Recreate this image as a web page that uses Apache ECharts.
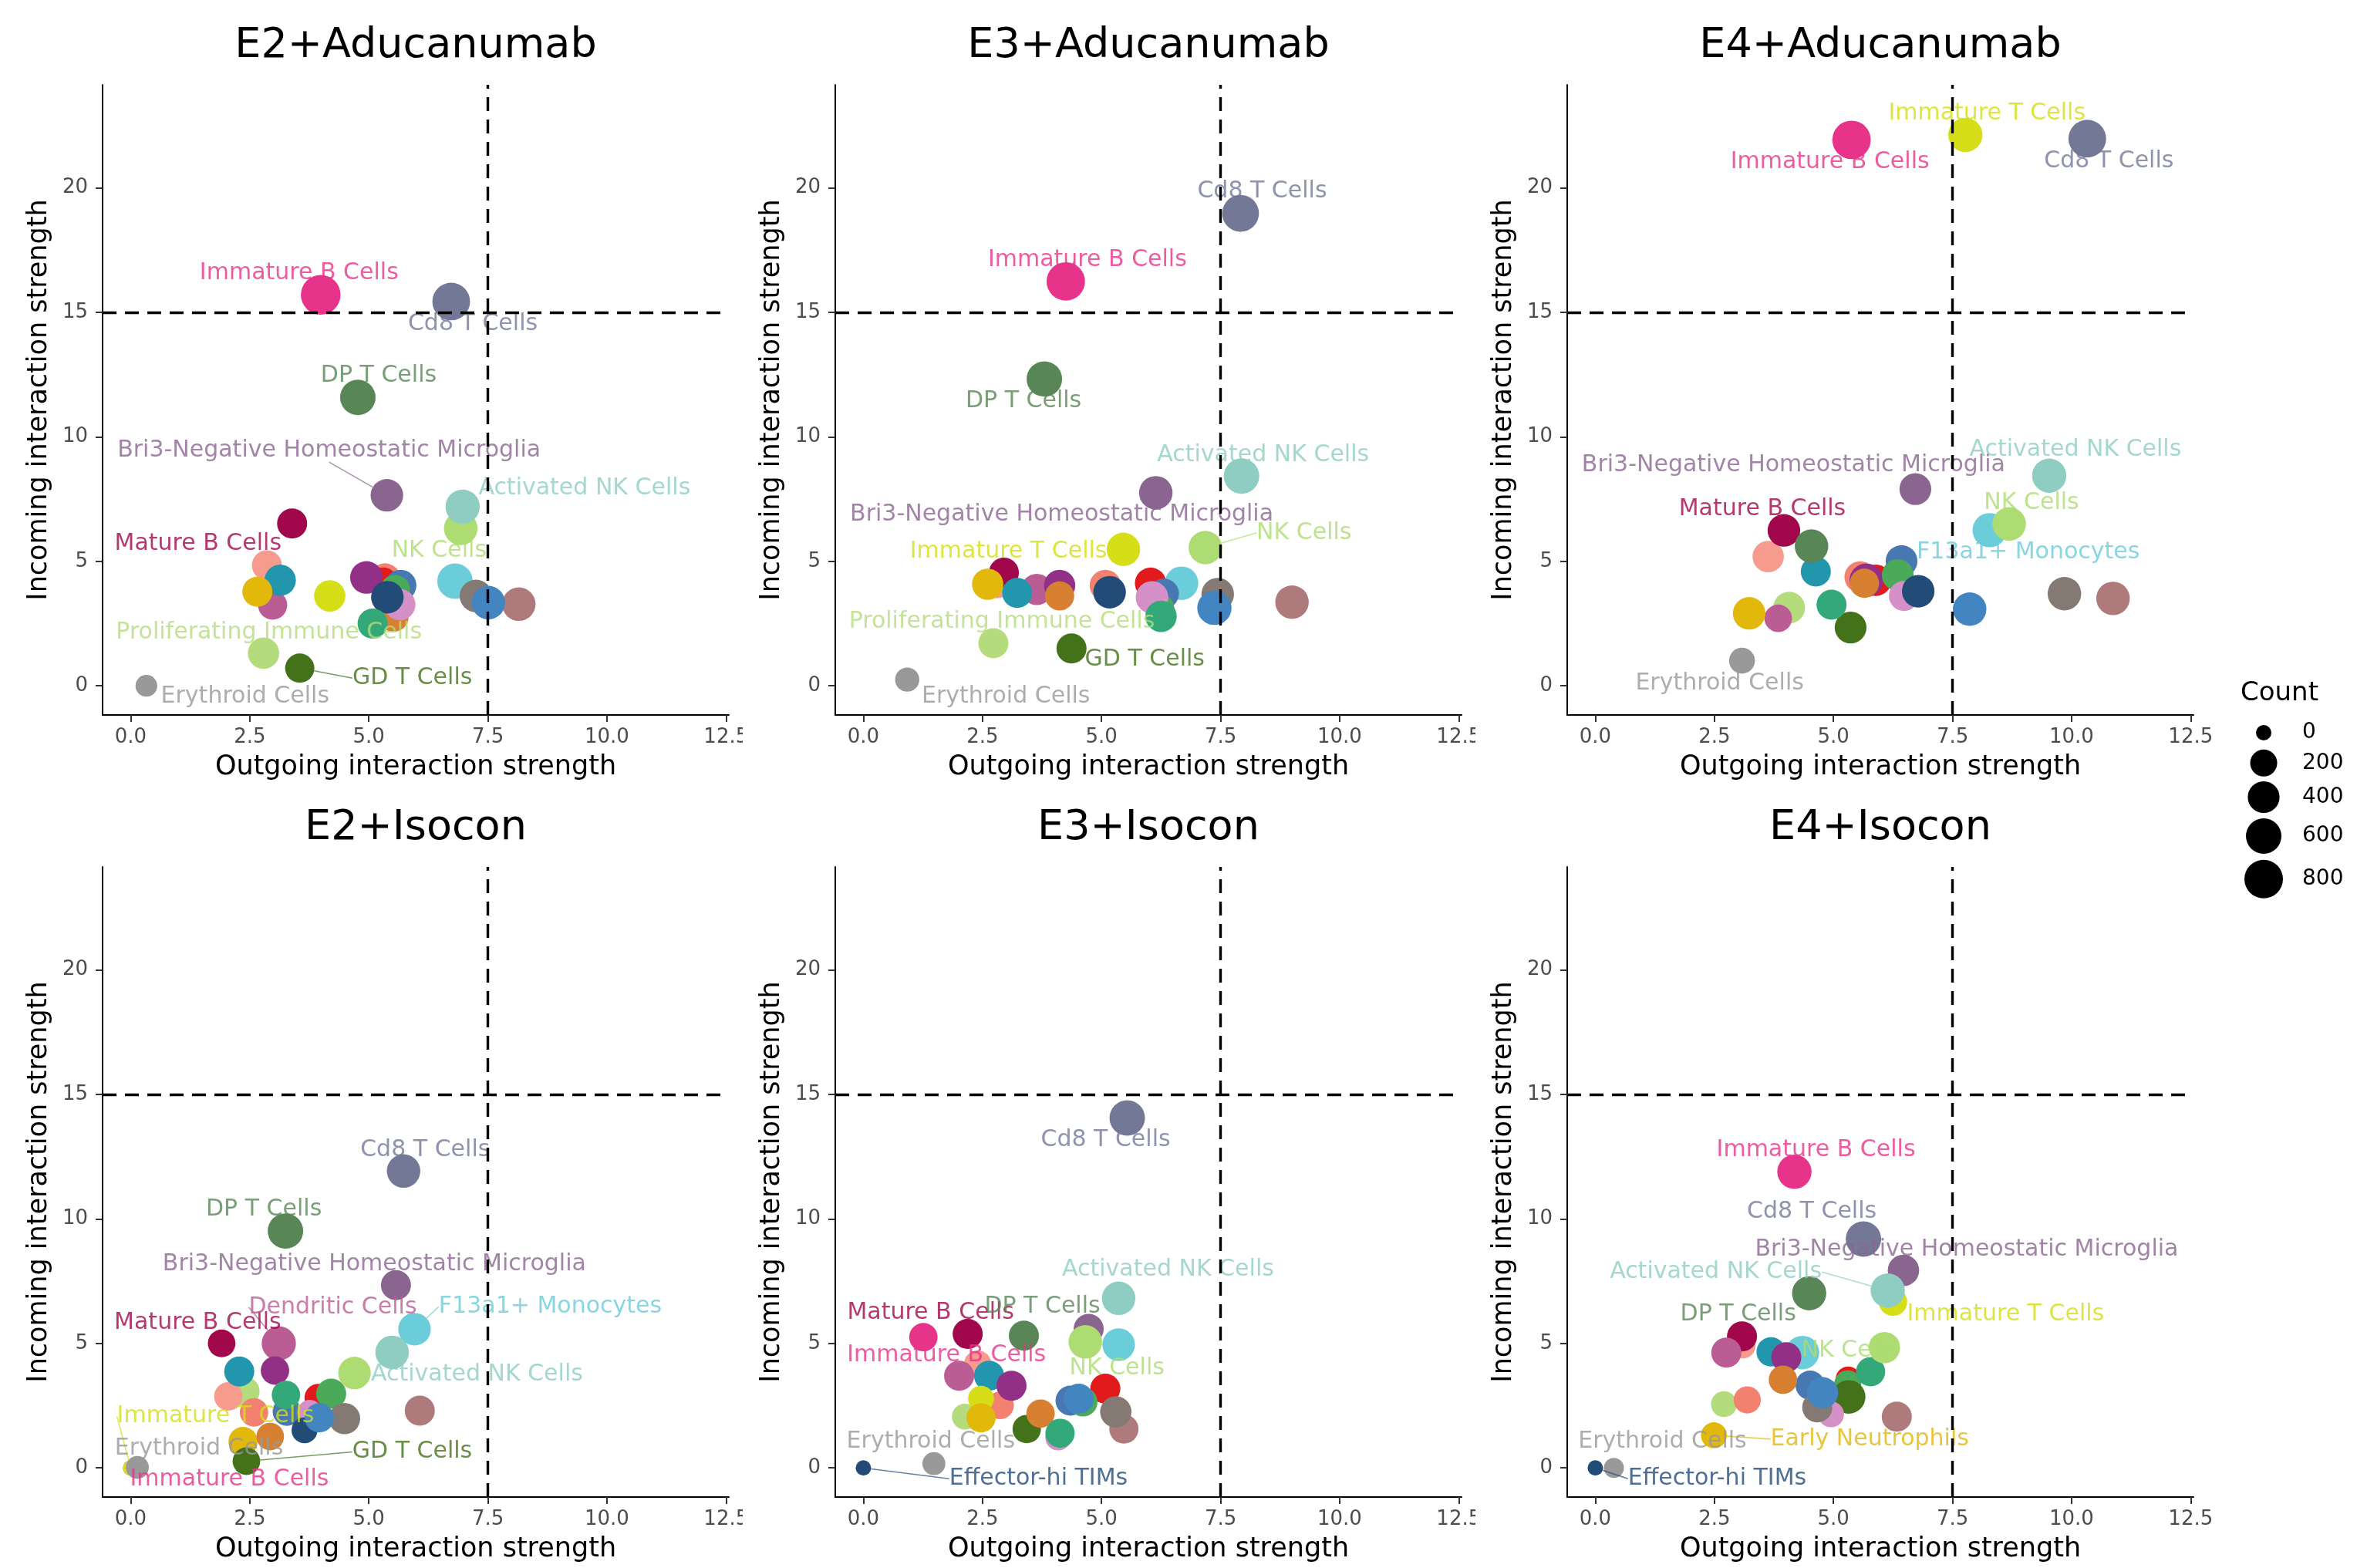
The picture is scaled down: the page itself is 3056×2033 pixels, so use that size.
<!DOCTYPE html>
<html>
<head>
<meta charset="utf-8">
<script src="https://cdn.jsdelivr.net/npm/echarts@6/dist/echarts.min.js"></script>
<style>
  html, body { margin: 0; padding: 0; background: #ffffff; }
  #chart { width: 3056px; height: 2033px; }
</style>
</head>
<body>
<div id="chart"></div>
<script>
// Cell populations, in drawing order (later ones are painted on top).
const cellTypes = [
  'Proliferating Immune Cells',
  'Population 1',
  'Mature B Cells',
  'Dendritic Cells',
  'Population 2',
  'F13a1+ Monocytes',
  'Population 3',
  'Population 4',
  'Population 5',
  'Immature B Cells',
  'Immature T Cells',
  'Early Neutrophils',
  'Erythroid Cells',
  'Population 6',
  'Population 7',
  'GD T Cells',
  'Population 8',
  'Population 9',
  'Effector-hi TIMs',
  'Population 10',
  'Population 11',
  'Population 12',
  'Population 13',
  'Bri3-Negative Homeostatic Microglia',
  'NK Cells',
  'Activated NK Cells',
  'Cd8 T Cells',
  'DP T Cells'
];

const cellColors = [
  '#B5DC7C', '#F89B8F', '#A1074B', '#BB5D95', '#2296AC', '#6BCCDA', '#F2826F',
  '#E31A1C', '#922F86', '#E7338A', '#D5DE17', '#E2B80A', '#999999', '#4878B1',
  '#4BAA5A', '#43721A', '#D88031', '#D591C7', '#234B78', '#33A97A', '#AE7A7B',
  '#847A73', '#4385C1', '#8A6590', '#ADDC72', '#8FCDC3', '#737896', '#588656'
];

// [outgoing strength, incoming strength, cell count] per population, same order as cellTypes.
const E2_ADUCANUMAB = [
  [2.79, 1.31, 380], [2.86, 4.84, 320], [3.39, 6.52, 320], [2.98, 3.24, 285],
  [3.14, 4.24, 380], [6.81, 4.20, 600], [5.34, 4.29, 380], [5.30, 4.15, 320],
  [4.95, 4.35, 440], [3.99, 15.70, 880], [4.18, 3.61, 380], [2.66, 3.78, 320],
  [0.33, 0.00, 60], [5.67, 4.03, 380], [5.55, 3.85, 320], [3.55, 0.71, 285],
  [5.52, 2.77, 320], [5.65, 3.26, 380], [5.39, 3.56, 440], [5.08, 2.50, 320],
  [8.15, 3.28, 490], [7.25, 3.61, 440], [7.51, 3.34, 490], [5.38, 7.65, 440],
  [6.93, 6.32, 490], [6.97, 7.19, 530], [6.73, 15.43, 740], [4.77, 11.58, 600]
];
const E3_ADUCANUMAB = [
  [2.73, 1.71, 320], [2.80, 4.10, 285], [2.95, 4.54, 320], [3.64, 3.87, 380],
  [3.23, 3.73, 320], [6.68, 4.12, 490], [5.08, 4.03, 380], [6.03, 4.12, 380],
  [4.12, 4.03, 380], [4.25, 16.24, 790], [5.46, 5.48, 490], [2.61, 4.08, 380],
  [0.92, 0.25, 116], [6.31, 3.70, 320], [6.22, 3.11, 285], [4.37, 1.50, 320],
  [4.12, 3.61, 285], [6.06, 3.55, 440], [5.17, 3.76, 440], [6.25, 2.79, 380],
  [9.00, 3.36, 490], [7.44, 3.68, 440], [7.37, 3.13, 530], [6.14, 7.75, 490],
  [7.18, 5.55, 490], [7.94, 8.42, 600], [7.92, 18.97, 680], [3.80, 12.32, 600]
];
const E4_ADUCANUMAB = [
  [4.07, 3.14, 400], [3.63, 5.19, 380], [3.96, 6.24, 440], [3.84, 2.71, 222],
  [4.63, 4.59, 320], [8.28, 6.25, 530], [5.56, 4.37, 380], [5.89, 4.24, 380],
  [5.69, 4.24, 490], [5.38, 21.92, 790], [7.77, 22.12, 530], [3.23, 2.91, 440],
  [3.08, 1.01, 164], [6.43, 5.01, 400], [6.35, 4.45, 400], [5.36, 2.34, 400],
  [5.65, 4.12, 285], [6.48, 3.61, 320], [6.78, 3.80, 440], [4.96, 3.26, 320],
  [10.87, 3.51, 490], [9.85, 3.70, 490], [7.86, 3.08, 490], [6.72, 7.90, 400],
  [8.69, 6.50, 490], [9.53, 8.44, 530], [10.33, 21.97, 740], [4.54, 5.61, 490]
];
const E2_ISOCON = [
  [2.40, 3.07, 285], [2.05, 2.87, 253], [1.91, 5.00, 222], [3.11, 5.00, 530],
  [2.28, 3.87, 321], [5.96, 5.57, 440], [2.59, 2.23, 253], [3.94, 2.82, 222],
  [3.03, 3.91, 253], [0.00, 0.00, 0], [0.00, 0.00, 0], [2.36, 1.06, 285],
  [0.14, 0.02, 85], [3.28, 2.26, 253], [4.21, 2.98, 321], [2.43, 0.27, 222],
  [2.93, 1.26, 222], [3.76, 2.23, 139], [3.65, 1.51, 164], [3.26, 2.93, 253],
  [6.07, 2.30, 321], [4.49, 1.98, 380], [3.96, 2.01, 285], [5.57, 7.34, 321],
  [4.70, 3.81, 440], [5.49, 4.64, 490], [5.73, 11.92, 490], [3.25, 9.51, 600]
];
const E3_ISOCON = [
  [2.13, 2.06, 164], [2.40, 4.16, 222], [2.19, 5.38, 321], [2.01, 3.70, 321],
  [2.64, 3.70, 321], [5.36, 4.95, 440], [2.87, 2.51, 222], [5.08, 3.18, 321],
  [3.11, 3.30, 321], [1.26, 5.25, 253], [2.47, 2.78, 164], [2.47, 2.01, 285],
  [1.48, 0.17, 85], [4.35, 2.70, 321], [4.61, 2.65, 285], [3.43, 1.56, 253],
  [3.72, 2.18, 253], [4.09, 1.22, 164], [0.00, 0.00, 0], [4.13, 1.39, 285],
  [5.47, 1.56, 285], [5.30, 2.25, 380], [4.52, 2.78, 321], [4.73, 5.58, 321],
  [4.66, 5.06, 490], [5.36, 6.81, 490], [5.54, 14.05, 600], [3.37, 5.31, 321]
];
const E4_ISOCON = [
  [2.70, 2.56, 164], [3.10, 4.90, 139], [3.08, 5.28, 321], [2.75, 4.63, 321],
  [3.69, 4.66, 285], [4.35, 4.63, 490], [3.19, 2.73, 206], [5.31, 3.57, 139],
  [4.01, 4.44, 321], [4.18, 11.89, 530], [6.25, 6.67, 253], [2.49, 1.31, 164],
  [0.39, 0.00, 32], [4.51, 3.32, 285], [5.30, 3.37, 206], [5.32, 2.85, 490],
  [3.94, 3.54, 253], [4.95, 2.15, 164], [0.00, 0.00, 0], [5.78, 3.86, 285],
  [6.33, 2.06, 321], [4.66, 2.43, 321], [4.77, 3.02, 380], [6.47, 7.93, 380],
  [6.07, 4.83, 380], [6.14, 7.12, 530], [5.63, 9.19, 600], [4.49, 7.01, 530]
];

const panelTitles = ['E2+Aducanumab', 'E3+Aducanumab', 'E4+Aducanumab', 'E2+Isocon', 'E3+Isocon', 'E4+Isocon'];
const panelValues = [E2_ADUCANUMAB, E3_ADUCANUMAB, E4_ADUCANUMAB, E2_ISOCON, E3_ISOCON, E4_ISOCON];

const xTicks = [0, 2.5, 5, 7.5, 10, 12.5];
const yTicks = [0, 5, 10, 15, 20];
const thresholdOutgoing = 7.5;
const thresholdIncoming = 15;
const legendCounts = [0, 200, 400, 600, 800];

// Label placement: pixel offset of the label centre from its point, and whether a leader line is drawn.
const labelPlacement = [
  {
    'Immature B Cells': [-28, -28], 'Cd8 T Cells': [28, 29], 'DP T Cells': [27, -28],
    'Bri3-Negative Homeostatic Microglia': [-75, -58, true], 'Activated NK Cells': [158, -24],
    'NK Cells': [-28, 29], 'Mature B Cells': [-122, 27], 'Proliferating Immune Cells': [7, -27],
    'GD T Cells': [146, 13, true], 'Erythroid Cells': [128, 14]
  },
  {
    'Cd8 T Cells': [28, -28], 'Immature B Cells': [28, -28], 'DP T Cells': [-27, 29],
    'Activated NK Cells': [28, -27], 'Bri3-Negative Homeostatic Microglia': [-122, 28],
    'Immature T Cells': [-149, 3], 'NK Cells': [128, -19, true],
    'Proliferating Immune Cells': [11, -28], 'GD T Cells': [95, 14], 'Erythroid Cells': [128, 22]
  },
  {
    'Immature B Cells': [-28, 29], 'Immature T Cells': [28, -28], 'Cd8 T Cells': [28, 29],
    'Activated NK Cells': [34, -33], 'Bri3-Negative Homeostatic Microglia': [-158, -31],
    'Mature B Cells': [-28, -28], 'NK Cells': [29, -27], 'F13a1+ Monocytes': [50, 29],
    'Erythroid Cells': [-29, 30]
  },
  {
    'Cd8 T Cells': [28, -27], 'DP T Cells': [-28, -28], 'Bri3-Negative Homeostatic Microglia': [-28, -27],
    'Dendritic Cells': [70, -47, true], 'F13a1+ Monocytes': [176, -29, true], 'Mature B Cells': [-31, -27],
    'Activated NK Cells': [110, 29], 'GD T Cells': [215, -12, true], 'Erythroid Cells': [80, -24],
    'Immature T Cells': [110, -67, true], 'Immature B Cells': [128, 15]
  },
  {
    'Cd8 T Cells': [-28, 29], 'Activated NK Cells': [64, -37], 'DP T Cells': [24, -38],
    'Mature B Cells': [-48, -27], 'Immature B Cells': [30, 24], 'NK Cells': [41, 34],
    'Erythroid Cells': [-4, -29], 'Effector-hi TIMs': [227, 14, true]
  },
  {
    'Immature B Cells': [28, -28], 'Cd8 T Cells': [-67, -35], 'Bri3-Negative Homeostatic Microglia': [82, -27],
    'Activated NK Cells': [-223, -24, true], 'Immature T Cells': [146, 16], 'DP T Cells': [-92, 27],
    'NK Cells': [-46, 4], 'Early Neutrophils': [202, 5, true], 'Erythroid Cells': [63, -34],
    'Effector-hi TIMs': [158, 14, true]
  }
];

const FONT = 'DejaVu Sans';
const dotSize = n => 20 + 30 * Math.sqrt(n / 800);

// Panel frame geometry (pixels).
const colLeft = [133, 1083, 2032];
const rowTop = [110, 1124];
const panelW = 812;
const panelH = 817;
const titleTop = [33, 1047];

const grid = [], xAxis = [], yAxis = [], title = [], series = [];

panelTitles.forEach((panelTitle, i) => {
  const col = i % 3, row = Math.floor(i / 3);
  const vals = panelValues[i];
  const place = labelPlacement[i];

  grid.push({
    left: colLeft[col], top: rowTop[row], width: panelW, height: panelH,
    containLabel: false, outerBoundsMode: 'none'
  });

  xAxis.push({
    gridIndex: i, type: 'value', min: -0.59, max: 12.56,
    splitLine: { show: false },
    axisLine: { show: true, onZero: false, lineStyle: { color: '#000000', width: 2 } },
    axisTick: { show: true, length: 9, customValues: xTicks, lineStyle: { color: '#333333', width: 2 } },
    axisLabel: {
      customValues: xTicks, formatter: v => v.toFixed(1), fontSize: 26,
      color: '#4D4D4D', margin: 16, fontFamily: FONT
    },
    name: 'Outgoing interaction strength', nameLocation: 'middle', nameGap: 50,
    nameTextStyle: { fontSize: 35, color: '#000000', fontFamily: FONT }
  });

  yAxis.push({
    gridIndex: i, type: 'value', min: -1.17, max: 24.13,
    splitLine: { show: false },
    axisLine: { show: true, onZero: false, lineStyle: { color: '#000000', width: 2 } },
    axisTick: { show: true, length: 9, customValues: yTicks, lineStyle: { color: '#333333', width: 2 } },
    axisLabel: {
      customValues: yTicks, formatter: v => String(v), fontSize: 26,
      color: '#4D4D4D', margin: 19, fontFamily: FONT
    },
    name: 'Incoming interaction strength', nameLocation: 'middle', nameGap: 65,
    nameTextStyle: { fontSize: 35, color: '#000000', fontFamily: FONT }
  });

  title.push({
    text: panelTitle, left: colLeft[col] + panelW / 2, top: titleTop[row], textAlign: 'center',
    padding: 0,
    textStyle: { fontSize: 54, fontWeight: 'normal', color: '#000000', fontFamily: FONT }
  });

  // The cell populations, sized by cell count.
  series.push({
    type: 'scatter', xAxisIndex: i, yAxisIndex: i, z: 2, silent: true,
    symbol: 'circle', symbolSize: v => dotSize(v[2]),
    emphasis: { disabled: true },
    data: cellTypes.map((name, k) => ({ name, value: vals[k], itemStyle: { color: cellColors[k], opacity: 1 } }))
  });

  // Text labels for the named populations, drawn above the points.
  const labelled = cellTypes.map((_, k) => k).filter(k => place[cellTypes[k]]);
  series.push({
    type: 'scatter', xAxisIndex: i, yAxisIndex: i, z: 3, silent: true,
    symbol: 'circle', symbolSize: v => dotSize(v[2]),
    itemStyle: { color: 'rgba(0,0,0,0)' },
    emphasis: { disabled: true },
    label: {
      show: true, position: 'inside', formatter: '{b}', fontSize: 30,
      fontFamily: FONT, textBorderWidth: 0
    },
    labelLayout: p => {
      const o = place[cellTypes[labelled[p.dataIndex]]];
      return { dx: o[0], dy: o[1] };
    },
    data: labelled.map(k => ({
      name: cellTypes[k],
      value: vals[k],
      label: { color: cellColors[k] },
      labelLine: {
        show: !!place[cellTypes[k]][2],
        lineStyle: { color: cellColors[k], width: 1.6, opacity: 0.7 }
      }
    }))
  });

  // Threshold guides.
  series.push({
    type: 'scatter', xAxisIndex: i, yAxisIndex: i, z: 5, silent: true, data: [],
    markLine: {
      silent: true, symbol: ['none', 'none'], animation: false,
      label: { show: false }, emphasis: { disabled: true },
      lineStyle: { color: '#000000', width: 3.4, type: [18, 11] },
      data: [{ xAxis: thresholdOutgoing }, { yAxis: thresholdIncoming }]
    }
  });
});

// Size legend.
const legendEls = [{
  type: 'text', left: 2905, top: 882, z: 10,
  style: { text: 'Count', fontSize: 34, fill: '#000000', fontFamily: FONT }
}];
let cy = 950;
legendCounts.forEach((n, j) => {
  const d = dotSize(n);
  if (j > 0) {
    const prev = dotSize(legendCounts[j - 1]);
    cy += (Math.max(38, prev * 1.16) + Math.max(38, d * 1.16)) / 2;
  }
  legendEls.push({
    type: 'circle', z: 10, shape: { cx: 2935, cy: cy, r: d / 2 }, style: { fill: '#000000' }
  });
  legendEls.push({
    type: 'text', z: 10, x: 2985, y: cy,
    style: { text: String(n), fontSize: 28, fill: '#000000', fontFamily: FONT, verticalAlign: 'middle', align: 'left' }
  });
});

// Panel cells clip the right-most tick label of the first two columns.
[0, 1].forEach(col => {
  [0, 1].forEach(row => {
    legendEls.push({
      type: 'rect', z: 20,
      shape: { x: colLeft[col] + 830, y: rowTop[row] + 828, width: 24, height: 40 },
      style: { fill: '#ffffff' }
    });
  });
});

const chart = echarts.init(document.getElementById('chart'), null, { renderer: 'canvas', width: 3056, height: 2033 });
chart.setOption({
  animation: false,
  backgroundColor: '#ffffff',
  textStyle: { fontFamily: FONT },
  title, grid, xAxis, yAxis, series,
  graphic: { elements: legendEls }
});
</script>
</body>
</html>
